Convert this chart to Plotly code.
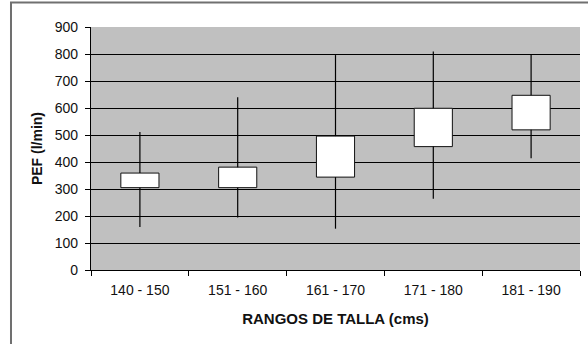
import plotly.graph_objects as go

categories = ["140 - 150", "151 - 160", "161 - 170", "171 - 180", "181 - 190"]
box_low = [305, 305, 344, 457, 519]
box_high = [359, 381, 496, 599, 647]
whisker_low = [159, 194, 153, 264, 414]
whisker_high = [511, 640, 796, 809, 796]

y_ticks = list(range(0, 1000, 100))

fig = go.Figure()

# whiskers as line segments
wx, wy = [], []
for c, bl, bh, lo, hi in zip(categories, box_low, box_high, whisker_low, whisker_high):
    wx += [c, c, None, c, c, None]
    wy += [bh, hi, None, lo, bl, None]
fig.add_trace(go.Scatter(x=wx, y=wy, mode="lines", line=dict(color="black", width=1.2),
                         hoverinfo="skip", showlegend=False))

fig.add_trace(go.Bar(
    x=categories,
    y=[h - l for l, h in zip(box_low, box_high)],
    base=box_low,
    width=0.39,
    marker=dict(color="white", line=dict(color="#111111", width=1)),
    showlegend=False,
))

font_family = "Liberation Sans, Arial, sans-serif"

fig.update_layout(
    width=588, height=344,
    margin=dict(l=91, r=8, t=27, b=74),
    paper_bgcolor="white",
    plot_bgcolor="#c0c0c0",
    font=dict(family=font_family, size=14, color="#111111"),
    showlegend=False,
    xaxis=dict(
        type="category",
        categoryorder="array", categoryarray=categories,
        showgrid=False,
        showline=True, linecolor="black", linewidth=1.2,
        ticks="outside", ticklen=5, tickcolor="black", tickson="boundaries",
        tickfont=dict(size=14),
        ticklabelstandoff=7,
        title=dict(text="<b>RANGOS DE TALLA (cms)</b>", font=dict(size=15), standoff=16),
        range=[-0.5, 4.5],
    ),
    yaxis=dict(
        range=[0, 900],
        tickvals=y_ticks,
        showgrid=True, gridcolor="black", gridwidth=1.2,
        showline=True, linecolor="black", linewidth=1.2,
        ticks="outside", ticklen=5, tickcolor="black",
        tickfont=dict(size=14),
        ticklabelstandoff=4,
        zeroline=False,
        title=dict(text="<b>PEF (l/min)</b>", font=dict(size=14), standoff=8),
    ),
    shapes=[dict(
        type="rect", xref="paper", yref="paper",
        x0=-0.1636, x1=1.03, y0=-0.35, y1=1.1008,
        line=dict(color="#707070", width=2), fillcolor="rgba(0,0,0,0)",
        layer="below",
    )],
)

fig.write_html("out.html")
